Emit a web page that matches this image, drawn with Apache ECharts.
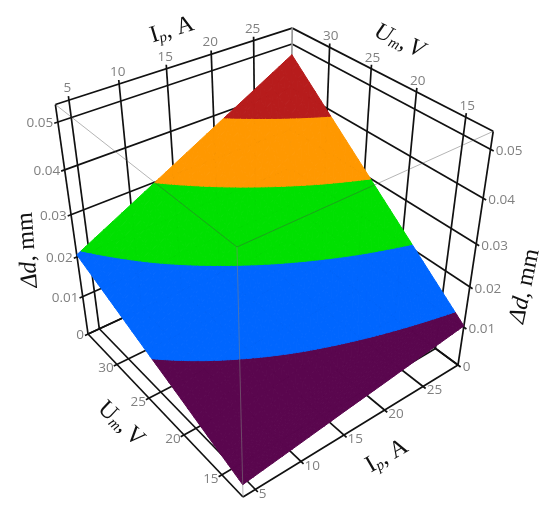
<!DOCTYPE html>
<html>
<head>
<meta charset="utf-8">
<title>Δd surface</title>
<script src="https://cdn.jsdelivr.net/npm/echarts@6/dist/echarts.min.js"></script>
<style>
  html, body { margin: 0; padding: 0; background: #fff; }
  #chart { width: 550px; height: 514px; }
</style>
</head>
<body>
<div id="chart"></div>
<script>
// axis ranges of the box
const ipRange = [3.7, 29.8];
const umRange = [12.4, 34.85];
const dRange = [0, 0.0535];

// tick labels
const ipTicks = [5, 10, 15, 20, 25];
const umTicks = [15, 20, 25, 30];
const dTicks = [0, 0.01, 0.02, 0.03, 0.04, 0.05];

// surface: one row per Um, one column per Ip
const surfaceIp = [3.7, 10, 15, 20, 25, 29.8];
const surfaceUm = [12.4, 15, 20, 25, 30, 34.85];
const surfaceD = [
  [0.0032, 0.0049, 0.0063, 0.0076, 0.0090, 0.0103],
  [0.0052, 0.0075, 0.0093, 0.0111, 0.0129, 0.0146],
  [0.0091, 0.0124, 0.0151, 0.0177, 0.0204, 0.0229],
  [0.0129, 0.0173, 0.0208, 0.0243, 0.0279, 0.0312],
  [0.0168, 0.0223, 0.0266, 0.0310, 0.0354, 0.0395],
  [0.0205, 0.0270, 0.0322, 0.0374, 0.0426, 0.0476]
];

// colour bands
const bandLevels = [0, 0.0121, 0.021, 0.0299, 0.0387, 1];
const bandColors = ["#5a064e", "#0066ff", "#00e000", "#ff9800", "#b71c1c"];

const [ipMin, ipMax] = ipRange;
const [umMin, umMax] = umRange;
const dMin = dRange[0];
const dMax = dRange[1];

// perspective of the box, fitted on its corners
function project(ip, um, d) {
  const u = (ip - ipMin) / (ipMax - ipMin);
  const v = (um - umMin) / (umMax - umMin);
  const w = (d - dMin) / (dMax - dMin);
  const den = 1 + 0.1605 * u + 0.203 * v - 0.183 * w;
  return [
    (243 + 288.5 * u - 137.1 * v - 49.4 * w) / den,
    (497 - 73.4 * u - 95.2 * v - 295.2 * w) / den
  ];
}

// clip a triangle [ip, um, d] to lo <= d <= hi
function clipBand(poly, lo, hi) {
  function clip(points, inside) {
    const out = [];
    points.forEach((p, i) => {
      const q = points[(i + 1) % points.length];
      const pIn = inside.test(p[2]);
      const qIn = inside.test(q[2]);
      if (pIn) out.push(p);
      if (pIn !== qIn) {
        const t = (inside.level - p[2]) / (q[2] - p[2]);
        out.push([p[0] + (q[0] - p[0]) * t, p[1] + (q[1] - p[1]) * t, inside.level]);
      }
    });
    return out;
  }
  let res = clip(poly, { level: lo, test: (d) => d >= lo });
  if (res.length) res = clip(res, { level: hi, test: (d) => d <= hi });
  return res;
}

function renderCell(params, api) {
  const i = api.value(0);
  const j = api.value(1);
  const ip0 = surfaceIp[i], ip1 = surfaceIp[i + 1];
  const um0 = surfaceUm[j], um1 = surfaceUm[j + 1];
  const d00 = surfaceD[j][i], d10 = surfaceD[j][i + 1];
  const d01 = surfaceD[j + 1][i], d11 = surfaceD[j + 1][i + 1];
  const steps = 6;
  const at = (a, b) => {
    const s = a / steps, t = b / steps;
    return [
      ip0 + (ip1 - ip0) * s,
      um0 + (um1 - um0) * t,
      d00 * (1 - s) * (1 - t) + d10 * s * (1 - t) + d01 * (1 - s) * t + d11 * s * t
    ];
  };
  const children = [];
  for (let a = 0; a < steps; a++) {
    for (let b = 0; b < steps; b++) {
      const tris = [
        [at(a, b), at(a + 1, b), at(a + 1, b + 1)],
        [at(a, b), at(a + 1, b + 1), at(a, b + 1)]
      ];
      tris.forEach((tri) => {
        bandColors.forEach((color, k) => {
          const poly = clipBand(tri, bandLevels[k], bandLevels[k + 1]);
          if (poly.length < 3) return;
          children.push({
            type: "polygon",
            shape: { points: poly.map((p) => api.coord(project(p[0], p[1], p[2]))) },
            style: { fill: color, stroke: color, lineWidth: 1, lineJoin: "round" }
          });
        });
      });
    }
  }
  return { type: "group", children: children };
}

function renderLine(params, api) {
  const a = api.coord(project(api.value(0), api.value(1), api.value(2)));
  const b = api.coord(project(api.value(3), api.value(4), api.value(5)));
  return {
    type: "line",
    shape: { x1: a[0], y1: a[1], x2: b[0], y2: b[1] },
    style: api.style({ fill: null })
  };
}

// wall and floor lines, ticks stick out a little past the box
const ipTick = 0.35, umTick = 0.3, dTick = 0.0008;
const backLines = [];
ipTicks.forEach((ip) => {
  backLines.push([ip, umMin - umTick, 0, ip, umMax, 0]);
  backLines.push([ip, umMax, 0, ip, umMax, dMax + dTick]);
});
umTicks.forEach((um) => {
  backLines.push([ipMin - ipTick, um, 0, ipMax, um, 0]);
  backLines.push([ipMax, um, 0, ipMax, um, dMax + dTick]);
});
dTicks.forEach((d) => {
  backLines.push([ipMin - ipTick, umMax, d, ipMax, umMax, d]);
  backLines.push([ipMax, umMax, d, ipMax, umMin - umTick, d]);
});
backLines.push(
  [ipMin, umMax, dMax, ipMax, umMax, dMax],
  [ipMax, umMax, dMax, ipMax, umMin, dMax],
  [ipMin, umMax, 0, ipMin, umMax, dMax],
  [ipMax, umMin, 0, ipMax, umMin, dMax],
  [ipMin, umMin, 0, ipMin, umMax, 0],
  [ipMin, umMin, 0, ipMax, umMin, 0],
  [ipMin, umMax, 0, ipMax, umMax, 0],
  [ipMax, umMin, 0, ipMax, umMax, 0]
);
const backCorner = [[ipMax, umMax, 0, ipMax, umMax, dMax]];
const topFaceLines = [
  [ipMin, umMax, dMax, ipMin, umMin, dMax],
  [ipMin, umMin, dMax, ipMax, umMin, dMax]
];
const frontEdge = [[ipMin, umMin, dMax, ipMin, umMin, 0]];

const cells = [];
for (let j = 0; j < surfaceUm.length - 1; j++) {
  for (let i = 0; i < surfaceIp.length - 1; i++) cells.push([i, j]);
}

// [ip, um, d, text, dx, dy, align]
const tickLabels = [];
ipTicks.forEach((ip) => {
  tickLabels.push([ip, umMax, dMax + dTick, String(ip), -1, -8, "center"]);
  tickLabels.push([ip, umMin - umTick, 0, String(ip), 1, 2, "left"]);
});
umTicks.forEach((um) => {
  tickLabels.push([ipMax, um, dMax + dTick, String(um), 1, -7, "center"]);
  tickLabels.push([ipMin - ipTick, um, 0, String(um), 0, 2, "right"]);
});
dTicks.forEach((d) => {
  tickLabels.push([ipMin - ipTick, umMax, d, String(d), -1, 0, "right"]);
  tickLabels.push([ipMax, umMin - umTick, d, String(d), 2, 0, "left"]);
});

function renderLabel(params, api) {
  const row = tickLabels[params.dataIndex];
  const p = api.coord(project(row[0], row[1], row[2]));
  return {
    type: "text",
    x: p[0] + row[4],
    y: p[1] + row[5],
    style: {
      text: row[3],
      fill: "#808080",
      font: "13.5px 'Open Sans'",
      align: row[6],
      verticalAlign: "middle"
    }
  };
}

const serif = "'Liberation Serif'";
const titleRich = {
  a: { fontFamily: serif, fontSize: 24, fill: "#111" },
  i: { fontFamily: serif, fontSize: 24, fontStyle: "italic", fill: "#111" },
  s: { fontFamily: serif, fontSize: 15, fontStyle: "italic", fill: "#111", padding: [10, 0, 0, 0] }
};

function title(x, y, deg, text) {
  return {
    type: "text",
    x: x,
    y: y,
    rotation: (deg * Math.PI) / 180,
    style: { text: text, rich: titleRich, align: "center", verticalAlign: "middle" }
  };
}

function lineSeries(data, z, color, width) {
  return {
    type: "custom",
    data: data,
    renderItem: renderLine,
    silent: true,
    clip: false,
    z: z,
    itemStyle: { color: color, borderColor: color, borderWidth: width },
    encode: { x: 0, y: 1 }
  };
}

const chart = echarts.init(document.getElementById("chart"));
chart.setOption({
  animation: false,
  backgroundColor: "#fff",
  grid: { left: 0, right: 0, top: 0, bottom: 0 },
  xAxis: { type: "value", min: 0, max: 550, show: false },
  yAxis: { type: "value", min: 0, max: 514, inverse: true, show: false },
  graphic: [
    title(172, 30, 17, "{a|I}{s|p}{a|, A}"),
    title(399, 41, -25, "{i|U}{s|m}{i|,} {i|V}"),
    title(28, 250, 94, "{i|Δd}{a|, mm}"),
    title(525, 286, 78, "{i|Δd}{a|, mm}"),
    title(121, 424, -43, "{a|U}{s|m}{a|,} {a|V}"),
    title(387, 456, 30, "{a|I}{s|p}{a|, A}")
  ],
  series: [
    lineSeries(backLines, 1, "#111", 1.7),
    lineSeries(backCorner, 2, "#999", 1.7),
    {
      type: "custom",
      data: cells,
      renderItem: renderCell,
      silent: true,
      clip: false,
      z: 3
    },
    lineSeries(topFaceLines, 4, "rgba(70,70,70,0.4)", 1),
    lineSeries(frontEdge, 4, "rgba(128,128,128,0.55)", 1),
    {
      type: "custom",
      data: tickLabels.map((row, i) => [i, 0]),
      renderItem: renderLabel,
      silent: true,
      clip: false,
      z: 5
    }
  ]
});
</script>
</body>
</html>
